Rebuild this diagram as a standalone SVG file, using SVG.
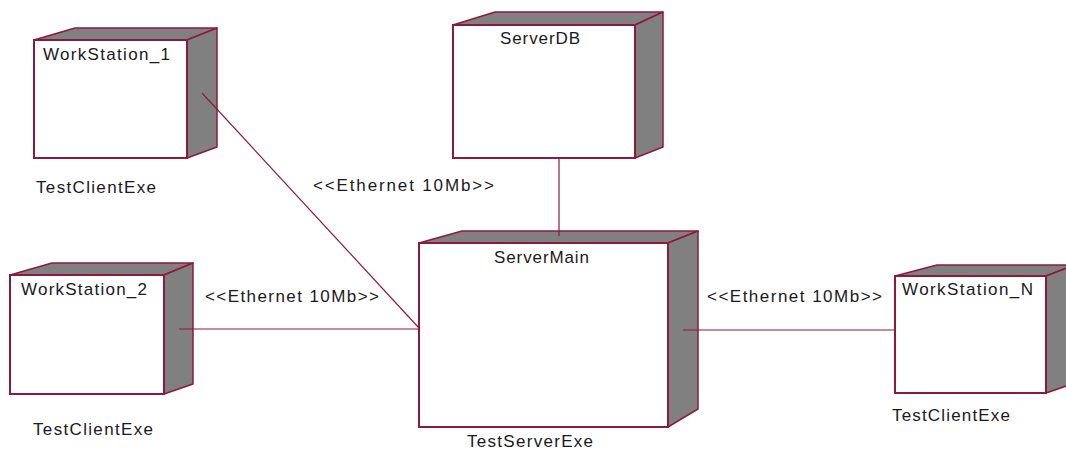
<svg xmlns="http://www.w3.org/2000/svg" width="1066" height="450" viewBox="0 0 1066 450">
<style>
.front{fill:#ffffff;stroke:#8c1a3c;stroke-width:2}
.shade{fill:#808080;stroke:#8c1a3c;stroke-width:1.5;stroke-linejoin:round}
.conn{stroke:#8c1a3c;stroke-width:1.2;fill:none}
text{font-family:"Liberation Sans",Arial,sans-serif;font-size:17px;fill:#1a1a1a}
</style>
<rect width="1066" height="450" fill="#ffffff"/>
<g id="WorkStation_1">
<polygon class="shade" points="34,40 75,28 217,28 187,40"/>
<polygon class="shade" points="187,40 217,28 217,147 187,158"/>
<rect class="front" x="34" y="40" width="153" height="118"/>
<text x="43" y="60" textLength="127" lengthAdjust="spacing">WorkStation_1</text>
<text x="36" y="193" textLength="120" lengthAdjust="spacing">TestClientExe</text>
</g>
<g id="ServerDB">
<polygon class="shade" points="453,25 495,12 663,12 635,25"/>
<polygon class="shade" points="635,25 663,12 663,147 635,158"/>
<rect class="front" x="453" y="25" width="182" height="133"/>
<text x="500" y="44" textLength="80" lengthAdjust="spacing">ServerDB</text>
</g>
<g id="ServerMain">
<polygon class="shade" points="419,243 462,231 698,231 668,243"/>
<polygon class="shade" points="668,243 698,231 698,409 668,427"/>
<rect class="front" x="419" y="243" width="249" height="184"/>
<text x="494" y="263" textLength="95" lengthAdjust="spacing">ServerMain</text>
<text x="467" y="447" textLength="126" lengthAdjust="spacing">TestServerExe</text>
</g>
<g id="WorkStation_2">
<polygon class="shade" points="10,275 52,263 193,263 164,275"/>
<polygon class="shade" points="164,275 193,263 193,384 164,394"/>
<rect class="front" x="10" y="275" width="154" height="119"/>
<text x="21" y="295" textLength="126" lengthAdjust="spacing">WorkStation_2</text>
<text x="33" y="435" textLength="120" lengthAdjust="spacing">TestClientExe</text>
</g>
<g id="WorkStation_N">
<polygon class="shade" points="895,276 937,265 1075,265 1046,276"/>
<polygon class="shade" points="1046,276 1075,265 1075,383 1046,393"/>
<rect class="front" x="895" y="276" width="151" height="117"/>
<text x="902" y="295" textLength="131" lengthAdjust="spacing">WorkStation_N</text>
<text x="892" y="421" textLength="118" lengthAdjust="spacing">TestClientExe</text>
</g>
<g id="connectors">
<line class="conn" x1="202" y1="93" x2="419" y2="328"/>
<line class="conn" x1="179" y1="329" x2="419" y2="329"/>
<line class="conn" x1="559" y1="158" x2="559" y2="236"/>
<line class="conn" x1="683" y1="330" x2="895" y2="330"/>
<text x="313" y="191" textLength="181" lengthAdjust="spacing">&lt;&lt;Ethernet 10Mb&gt;&gt;</text>
<text x="205" y="302" textLength="174" lengthAdjust="spacing">&lt;&lt;Ethernet 10Mb&gt;&gt;</text>
<text x="707" y="302" textLength="175" lengthAdjust="spacing">&lt;&lt;Ethernet 10Mb&gt;&gt;</text>
</g>
</svg>
